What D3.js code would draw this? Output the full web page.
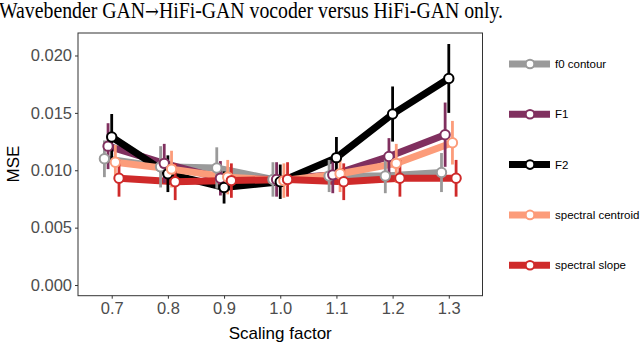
<!DOCTYPE html>
<html>
<head>
<meta charset="utf-8">
<script src="https://d3js.org/d3.v7.min.js"></script>
<style type="text/css">
    body { margin: 0; background: #fff; }
    svg { display: block; }
    .tick text { font: 16.5px "Liberation Sans", Arial, sans-serif; fill: #4d4d4d; }
    .tick line { stroke: #333; }
    .axis-title { font: 17px "Liberation Sans", Arial, sans-serif; fill: #000; }
    .legend text { font: 11.5px "Liberation Sans", Arial, sans-serif; fill: #000; }
    #title { font: 24px "Liberation Serif", "Times New Roman", serif; fill: #000; }
</style>
</head>
<body>
<svg width="640" height="344"></svg>
<script>
// data
var scalingFactors = [0.7, 0.8, 0.9, 1.0, 1.1, 1.2, 1.3];
var seriesNames = ["f0 contour", "F1", "F2", "spectral centroid", "spectral slope"];
var seriesColors = ["#9a9a9a", "#80305f", "#000000", "#fc9c7a", "#cf2a2a"];

var f0Mse      = [0.0110, 0.0103, 0.0102, 0.0092, 0.0095, 0.0095, 0.0098];
var f0Err      = [0.0016, 0.0018, 0.0018, 0.0015, 0.0014, 0.0015, 0.0017];
var f1Mse      = [0.0121, 0.0106, 0.0093, 0.0092, 0.0096, 0.0112, 0.0131];
var f1Err      = [0.0020, 0.0017, 0.0015, 0.0015, 0.0016, 0.0016, 0.0028];
var f2Mse      = [0.0129, 0.0097, 0.0085, 0.0090, 0.0111, 0.0149, 0.0180];
var f2Err      = [0.0020, 0.0016, 0.0014, 0.0015, 0.0018, 0.0024, 0.0030];
var centroidMse = [0.0107, 0.0101, 0.0094, 0.0091, 0.0097, 0.0106, 0.0124];
var centroidErr = [0.0015, 0.0016, 0.0015, 0.0015, 0.0016, 0.0017, 0.0019];
var slopeMse   = [0.0093, 0.0090, 0.0091, 0.0092, 0.0090, 0.0093, 0.0093];
var slopeErr   = [0.0016, 0.0016, 0.0015, 0.0015, 0.0016, 0.0016, 0.0016];

var yTicks = [0, 0.005, 0.010, 0.015, 0.020];

var allMse = [f0Mse, f1Mse, f2Mse, centroidMse, slopeMse];
var allErr = [f0Err, f1Err, f2Err, centroidErr, slopeErr];

var series = seriesNames.map(function(name, i) {
    return {
        name: name,
        color: seriesColors[i],
        dodge: (i - 2) * 0.0065,
        values: scalingFactors.map(function(s, j) {
            return { x: s, y: allMse[i][j], err: allErr[i][j] };
        })
    };
});

var svg = d3.select("svg");

var title = svg.append("text")
    .attr("id", "title")
    .attr("x", -1)
    .attr("y", 18)
    .attr("textLength", 504)
    .attr("lengthAdjust", "spacingAndGlyphs");
title.append("tspan").text("Wavebender GAN");
title.append("tspan").style("font-family", "'DejaVu Serif', serif").style("font-size", "20px").text("\u2192");
title.append("tspan").text("HiFi-GAN vocoder versus HiFi-GAN only.");

var panelLeft = 78, panelRight = 482.5, panelTop = 33, panelBottom = 295.7;

var x = d3.scaleLinear().domain([0.64, 1.36]).range([panelLeft, panelRight]);
var y = d3.scaleLinear().domain([-0.00093, 0.02196]).range([panelBottom, panelTop]);

// panel border
svg.append("rect")
    .attr("x", panelLeft).attr("y", panelTop)
    .attr("width", panelRight - panelLeft).attr("height", panelBottom - panelTop)
    .attr("fill", "none").attr("stroke", "#333").attr("stroke-width", 1);

svg.append("g")
    .attr("transform", `translate(0, ${panelBottom})`)
    .call(d3.axisBottom(x).tickValues(scalingFactors).tickFormat(d3.format(".1f")).tickSize(3).tickPadding(4).tickSizeOuter(0))
    .call(g => g.select(".domain").remove());

svg.append("g")
    .attr("transform", `translate(${panelLeft}, 0)`)
    .call(d3.axisLeft(y).tickValues(yTicks).tickFormat(d3.format(".3f")).tickSize(3).tickPadding(3).tickSizeOuter(0))
    .call(g => g.select(".domain").remove());

svg.append("text")
    .attr("class", "axis-title")
    .attr("x", (panelLeft + panelRight) / 2)
    .attr("y", 339)
    .attr("text-anchor", "middle")
    .text("Scaling factor");

svg.append("text")
    .attr("class", "axis-title")
    .attr("transform", "translate(19, 164) rotate(-90)")
    .attr("text-anchor", "middle")
    .text("MSE");

var line = d3.line()
    .x(d => d.px)
    .y(d => y(d.y));

var plot = svg.append("g");

// lines
series.forEach(function(s) {
    var pts = s.values.map(d => ({ px: x(d.x + s.dodge), y: d.y }));
    plot.append("path")
        .datum(pts)
        .attr("fill", "none")
        .attr("stroke", s.color)
        .attr("stroke-width", 7)
        .attr("d", line);
});

// error bars
series.forEach(function(s) {
    plot.selectAll(null)
        .data(s.values)
        .enter().append("line")
        .attr("x1", d => x(d.x + s.dodge))
        .attr("x2", d => x(d.x + s.dodge))
        .attr("y1", d => y(d.y - d.err))
        .attr("y2", d => y(d.y + d.err))
        .attr("stroke", s.color)
        .attr("stroke-width", 2.8);
});

// points
series.forEach(function(s) {
    plot.selectAll(null)
        .data(s.values)
        .enter().append("circle")
        .attr("cx", d => x(d.x + s.dodge))
        .attr("cy", d => y(d.y))
        .attr("r", 4.7)
        .attr("fill", "#fff")
        .attr("stroke", s.color)
        .attr("stroke-width", 2);
});

// legend
var legend = svg.append("g").attr("class", "legend");
series.forEach(function(s, i) {
    var ly = 64 + i * 50.3;
    legend.append("line")
        .attr("x1", 509).attr("x2", 550)
        .attr("y1", ly).attr("y2", ly)
        .attr("stroke", s.color)
        .attr("stroke-width", 7);
    legend.append("circle")
        .attr("cx", 530).attr("cy", ly)
        .attr("r", 4.3)
        .attr("fill", "#fff")
        .attr("stroke", s.color)
        .attr("stroke-width", 2);
    legend.append("text")
        .attr("x", 555)
        .attr("y", ly + 4)
        .text(s.name);
});
</script>
</body>
</html>
